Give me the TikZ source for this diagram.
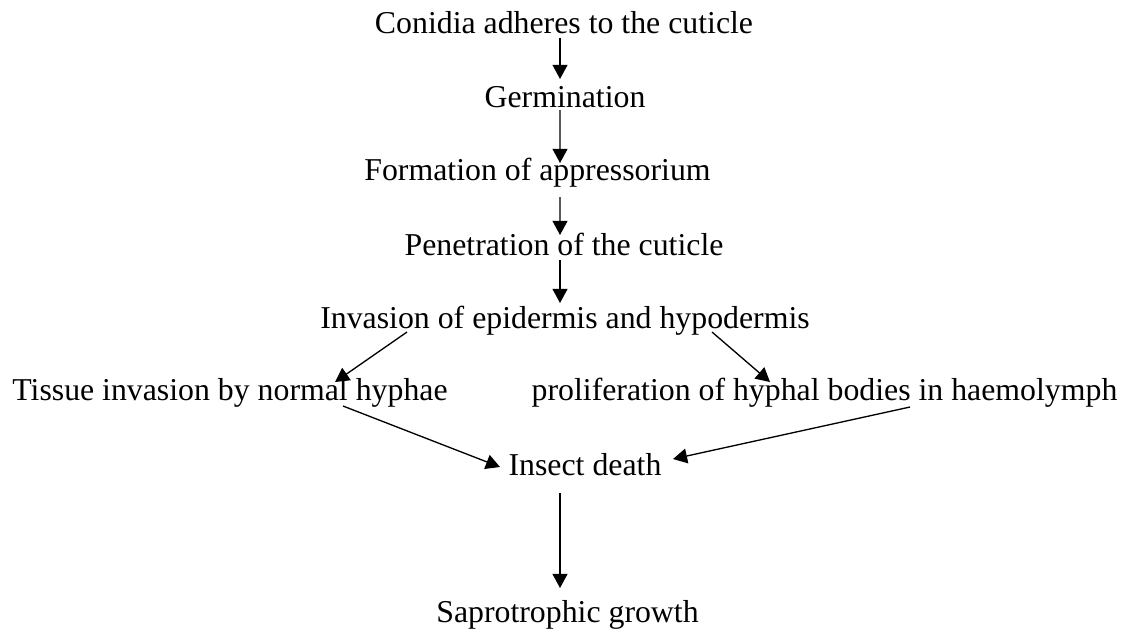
\documentclass[tikz,border=0pt]{standalone}
\usepackage{fontspec}
\setmainfont{Liberation Serif}
\usetikzlibrary{arrows.meta}

\begin{document}
\begin{tikzpicture}[
  x=0.01326cm, y=-0.01326cm,
  font=\fontsize{12}{14}\selectfont,
  stage/.style={
    inner sep=0pt,
    anchor=base
  },
  arrow/.style={-{Triangle[length=5.3pt,width=5.6pt]}, line width=0.5pt, draw=black}
]
\useasboundingbox (0,0) rectangle (1128,632);

\node[stage] (conidia) at (564,33) {Conidia adheres to the cuticle};
\node[stage] (germ)    at (565,107) {Germination};
\node[stage] (appress) at (537.5,180) {Formation of appressorium};
\node[stage] (penet)   at (564,255) {Penetration of the cuticle};
\node[stage] (invade)  at (565,328) {Invasion of epidermis and hypodermis};
\node[stage] (tissue)  at (230,400) {Tissue invasion by normal hyphae};
\node[stage] (prolif)  at (824.5,400) {proliferation of hyphal bodies in haemolymph};
\node[stage] (death)   at (585,475) {Insect death};
\node[stage] (sapro)   at (567.5,622) {Saprotrophic growth};

% main line
\draw[arrow] ([shift={(-4,5)}]conidia.base) -- ([shift={(-5,-28)}]germ.base);
\draw[arrow] ([shift={(-5,3)}]germ.base) -- ([shift={(22.5,-17)}]appress.base);
\draw[arrow] ([shift={(22.5,17)}]appress.base) -- ([shift={(-4,-20)}]penet.base);
\draw[arrow] ([shift={(-4,5)}]penet.base) -- ([shift={(-5,-25)}]invade.base);

% split and join
\draw[arrow] ([shift={(-158,4)}]invade.base) -- ([shift={(105,-18)}]tissue.base);
\draw[arrow] ([shift={(147,4)}]invade.base) -- ([shift={(-54.5,-18)}]prolif.base);
\draw[arrow] ([shift={(113,6)}]tissue.base) -- ([shift={(-85,-8)}]death.base);
\draw[arrow] ([shift={(85.5,7)}]prolif.base) -- ([shift={(88,-16)}]death.base);

\draw[arrow] ([shift={(-25,18)}]death.base) -- ([shift={(-7.5,-34)}]sapro.base);

\end{tikzpicture}
\end{document}
